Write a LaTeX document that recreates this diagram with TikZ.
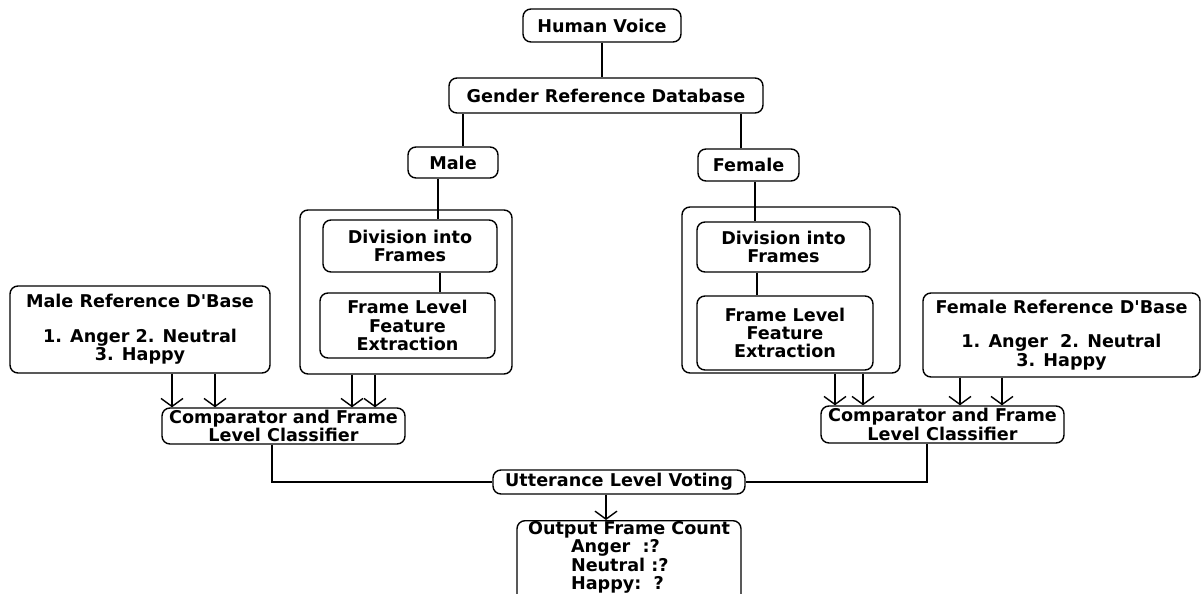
\documentclass[tikz,border=0pt]{standalone}
\usepackage{fontspec}
\setmainfont{DejaVu Sans}
\usetikzlibrary{arrows.meta}

\begin{document}
\begin{tikzpicture}[x=0.5pt, y=-0.5pt, line width=0.7pt,
  blk/.style={draw, rounded corners=4pt, align=center, inner sep=0.5pt,
    font=\fontsize{8.8}{9.2}\selectfont\bfseries},
  arr/.style={-{Straight Barb[length=4pt,width=11pt]}}]
  \useasboundingbox (0,0) rectangle (1201,594);

  \node[blk, minimum width=79pt, minimum height=16.5pt] (voice) at (602,25.5) {Human Voice};
  \node[blk, minimum width=157pt, minimum height=17.5pt] (gdb) at (606,95.5) {Gender Reference Database};
  \node[blk, minimum width=45pt, minimum height=15.5pt] (male) at (453,162.5) {Male};
  \node[blk, minimum width=50.5pt, minimum height=16pt] (female) at (748.5,165) {Female};

  \node[blk, minimum width=106pt, minimum height=82pt] (mbox) at (406,292) {};
  \node[blk, minimum width=87pt, minimum height=26pt] (mdiv) at (410,246) {Division into\\Frames};
  \node[blk, minimum width=87.5pt, minimum height=32.5pt] (mfeat) at (407.5,325.5) {Frame Level\\Feature\\Extraction};

  \node[blk, minimum width=109pt, minimum height=83pt] (fbox) at (791,290) {};
  \node[blk, minimum width=86.5pt, minimum height=25pt] (fdiv) at (783.5,247) {Division into\\Frames};
  \node[blk, minimum width=88pt, minimum height=37pt] (ffeat) at (785,333) {Frame Level\\Feature\\Extraction};

  \node[blk, minimum width=130pt, minimum height=43.5pt] (mref) at (140,329.5)
    {Male Reference D\textquotesingle Base\\[8pt]1. Anger 2. Neutral\\3. Happy};
  \node[blk, minimum width=138.5pt, minimum height=42pt] (fref) at (1061.5,335)
    {Female Reference D\textquotesingle Base\\[8pt]1. Anger\ \ 2. Neutral\\3. Happy};

  \node[blk, minimum width=121.5pt, minimum height=18pt] (mcmp) at (283.5,426) {Comparator and Frame\\Level Classifier};
  \node[blk, minimum width=121.5pt, minimum height=18.5pt] (fcmp) at (942.5,424.5) {Comparator and Frame\\Level Classifier};

  \node[blk, minimum width=126pt, minimum height=12pt] (vote) at (619,482) {Utterance Level Voting};
  \node[blk, anchor=north, align=left, minimum width=112pt, inner xsep=2pt, inner ysep=0.3pt, text depth=7pt] (out) at (629,520)
    {Output Frame Count\\\hspace*{21.5pt}Anger\ \ :?\\\hspace*{21.5pt}Neutral :?\\\hspace*{21.5pt}Happy:\ \ ?};

  \draw (voice.south) -- (voice.south |- gdb.north);
  \draw ([xshift=5pt]male.north) -- ([xshift=5pt]male.north |- gdb.south);
  \draw ([xshift=-3.75pt]female.north) -- ([xshift=-3.75pt]female.north |- gdb.south);
  \draw ([xshift=-7.5pt]male.south) -- ([xshift=-7.5pt]male.south |- mdiv.north);
  \draw ([xshift=3.25pt]female.south) -- ([xshift=3.25pt]female.south |- fdiv.north);
  \draw ([xshift=15pt]mdiv.south) -- ([xshift=15pt]mdiv.south |- mfeat.north);
  \draw ([xshift=-13.25pt]fdiv.south) -- ([xshift=-13.25pt]fdiv.south |- ffeat.north);

  \foreach \s in {16pt,37.5pt}
    \draw[arr] ([xshift=\s]mref.south) -- ([xshift=\s]mref.south |- mcmp.north);
  \foreach \s in {-27pt,-15.5pt}
    \draw[arr] ([xshift=\s]mbox.south) -- ([xshift=\s]mbox.south |- mcmp.north);
  \foreach \s in {22pt,36pt}
    \draw[arr] ([xshift=\s]fbox.south) -- ([xshift=\s]fbox.south |- fcmp.north);
  \foreach \s in {-50.75pt,-29.75pt}
    \draw[arr] ([xshift=\s]fref.south) -- ([xshift=\s]fref.south |- fcmp.north);

  \draw ([xshift=-5.75pt]mcmp.south) |- (vote.west);
  \draw ([xshift=-7.75pt]fcmp.south) |- (vote.east);
  \draw[arr] ([xshift=-6.5pt]vote.south) -- ([xshift=-6.5pt]vote.south |- out.north);
\end{tikzpicture}
\end{document}
